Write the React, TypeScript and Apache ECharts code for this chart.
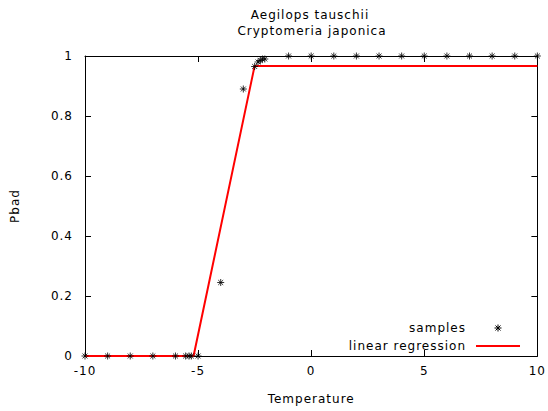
import React, { useEffect, useRef } from "react";
import * as echarts from "echarts";

const titleLines = ["Aegilops tauschii", "Cryptomeria japonica"];
const sampleX = [-10, -9, -8, -7, -6, -5.55, -5.4, -5.3, -5.0, -4.0, -3.0, -2.5, -2.35, -2.25, -2.15, -2.05, -1, 0, 1, 2, 3, 4, 5, 6, 7, 8, 9, 10];
const sampleY = [0, 0, 0, 0, 0, 0, 0, 0, 0, 0.245, 0.89, 0.965, 0.98, 0.985, 0.99, 0.99, 1, 1, 1, 1, 1, 1, 1, 1, 1, 1, 1, 1];
const regX = [-10, -5.2, -2.5, 10];
const regY = [0, 0, 0.967, 0.967];
const xTicks = [-10, -5, 0, 5, 10];
const yTicks = [0, 0.2, 0.4, 0.6, 0.8, 1];

const STAR = "path://M0,-1L0,1M-1,0L1,0M-0.7,-0.7L0.7,0.7M-0.7,0.7L0.7,-0.7";
const FONT = "DejaVu Sans";

export default function App() {
  const ref = useRef<HTMLDivElement>(null);
  useEffect(() => {
    const chart = echarts.init(ref.current!, null, { renderer: "svg" });
    const axisCommon = {
      type: "value" as const,
      axisLine: { show: true, onZero: false, lineStyle: { color: "#000", width: 1 } },
      axisTick: { show: true, inside: true, length: 6, lineStyle: { color: "#000" } },
      splitLine: { show: false },
    };
    const font = `12px '${FONT}'`;
    chart.setOption({
      animation: false,
      textStyle: { fontFamily: FONT },
      grid: { left: 85, right: 8, top: 56, bottom: 55 },
      graphic: [
        { type: "text", x: 310, y: 15, style: { text: titleLines[0], fill: "#000", font, align: "center", verticalAlign: "middle" } },
        { type: "text", x: 312, y: 31, style: { text: titleLines[1], fill: "#000", font, align: "center", verticalAlign: "middle" } },
        { type: "text", x: 466, y: 328, style: { text: "samples", fill: "#000", font, align: "right", verticalAlign: "middle" } },
        { type: "text", x: 466, y: 346, style: { text: "linear regression", fill: "#000", font, align: "right", verticalAlign: "middle" } },
        { type: "line", shape: { x1: 476, y1: 346, x2: 520, y2: 346 }, style: { stroke: "#ff0000", lineWidth: 2 } },
        { type: "line", shape: { x1: 498, y1: 324.5, x2: 498, y2: 331.5 }, style: { stroke: "#000", lineWidth: 1 } },
        { type: "line", shape: { x1: 494.5, y1: 328, x2: 501.5, y2: 328 }, style: { stroke: "#000", lineWidth: 1 } },
        { type: "line", shape: { x1: 495.5, y1: 325.5, x2: 500.5, y2: 330.5 }, style: { stroke: "#000", lineWidth: 1 } },
        { type: "line", shape: { x1: 495.5, y1: 330.5, x2: 500.5, y2: 325.5 }, style: { stroke: "#000", lineWidth: 1 } },
      ],
      xAxis: [
        {
          ...axisCommon,
          min: -10, max: 10, interval: 5,
          name: "Temperature", nameLocation: "middle", nameGap: 37,
          nameTextStyle: { color: "#000", fontSize: 12, fontFamily: FONT },
          axisLabel: { color: "#000", fontSize: 12, fontFamily: FONT, margin: 9, formatter: (v: number) => (xTicks.includes(v) ? String(v) : "") },
        },
        { ...axisCommon, position: "top", min: -10, max: 10, interval: 5, axisLabel: { show: false } },
      ],
      yAxis: [
        {
          ...axisCommon,
          min: 0, max: 1, interval: 0.2,
          name: "Pbad", nameLocation: "middle", nameGap: 64,
          nameTextStyle: { color: "#000", fontSize: 12, fontFamily: FONT },
          axisLabel: { color: "#000", fontSize: 12, fontFamily: FONT, margin: 12, formatter: (v: number) => { const t = yTicks.find((y) => Math.abs(y - v) < 1e-9); return t === undefined ? "" : String(t); } },
        },
        { ...axisCommon, position: "right", min: 0, max: 1, interval: 0.2, axisLabel: { show: false } },
      ],
      series: [
        {
          type: "line",
          data: regX.map((x, i) => [x, regY[i]]),
          showSymbol: false,
          lineStyle: { color: "#ff0000", width: 2 },
          z: 2,
        },
        {
          type: "scatter",
          data: sampleX.map((x, i) => [x, sampleY[i]]),
          symbol: STAR,
          symbolSize: 7,
          itemStyle: { color: "none", borderColor: "#000", borderWidth: 1 },
          z: 3,
        },
      ],
    });
    return () => chart.dispose();
  }, []);
  return <div ref={ref} style={{ width: 548, height: 411, position: "absolute", left: 0, top: 0, letterSpacing: "1px" }} />;
}
